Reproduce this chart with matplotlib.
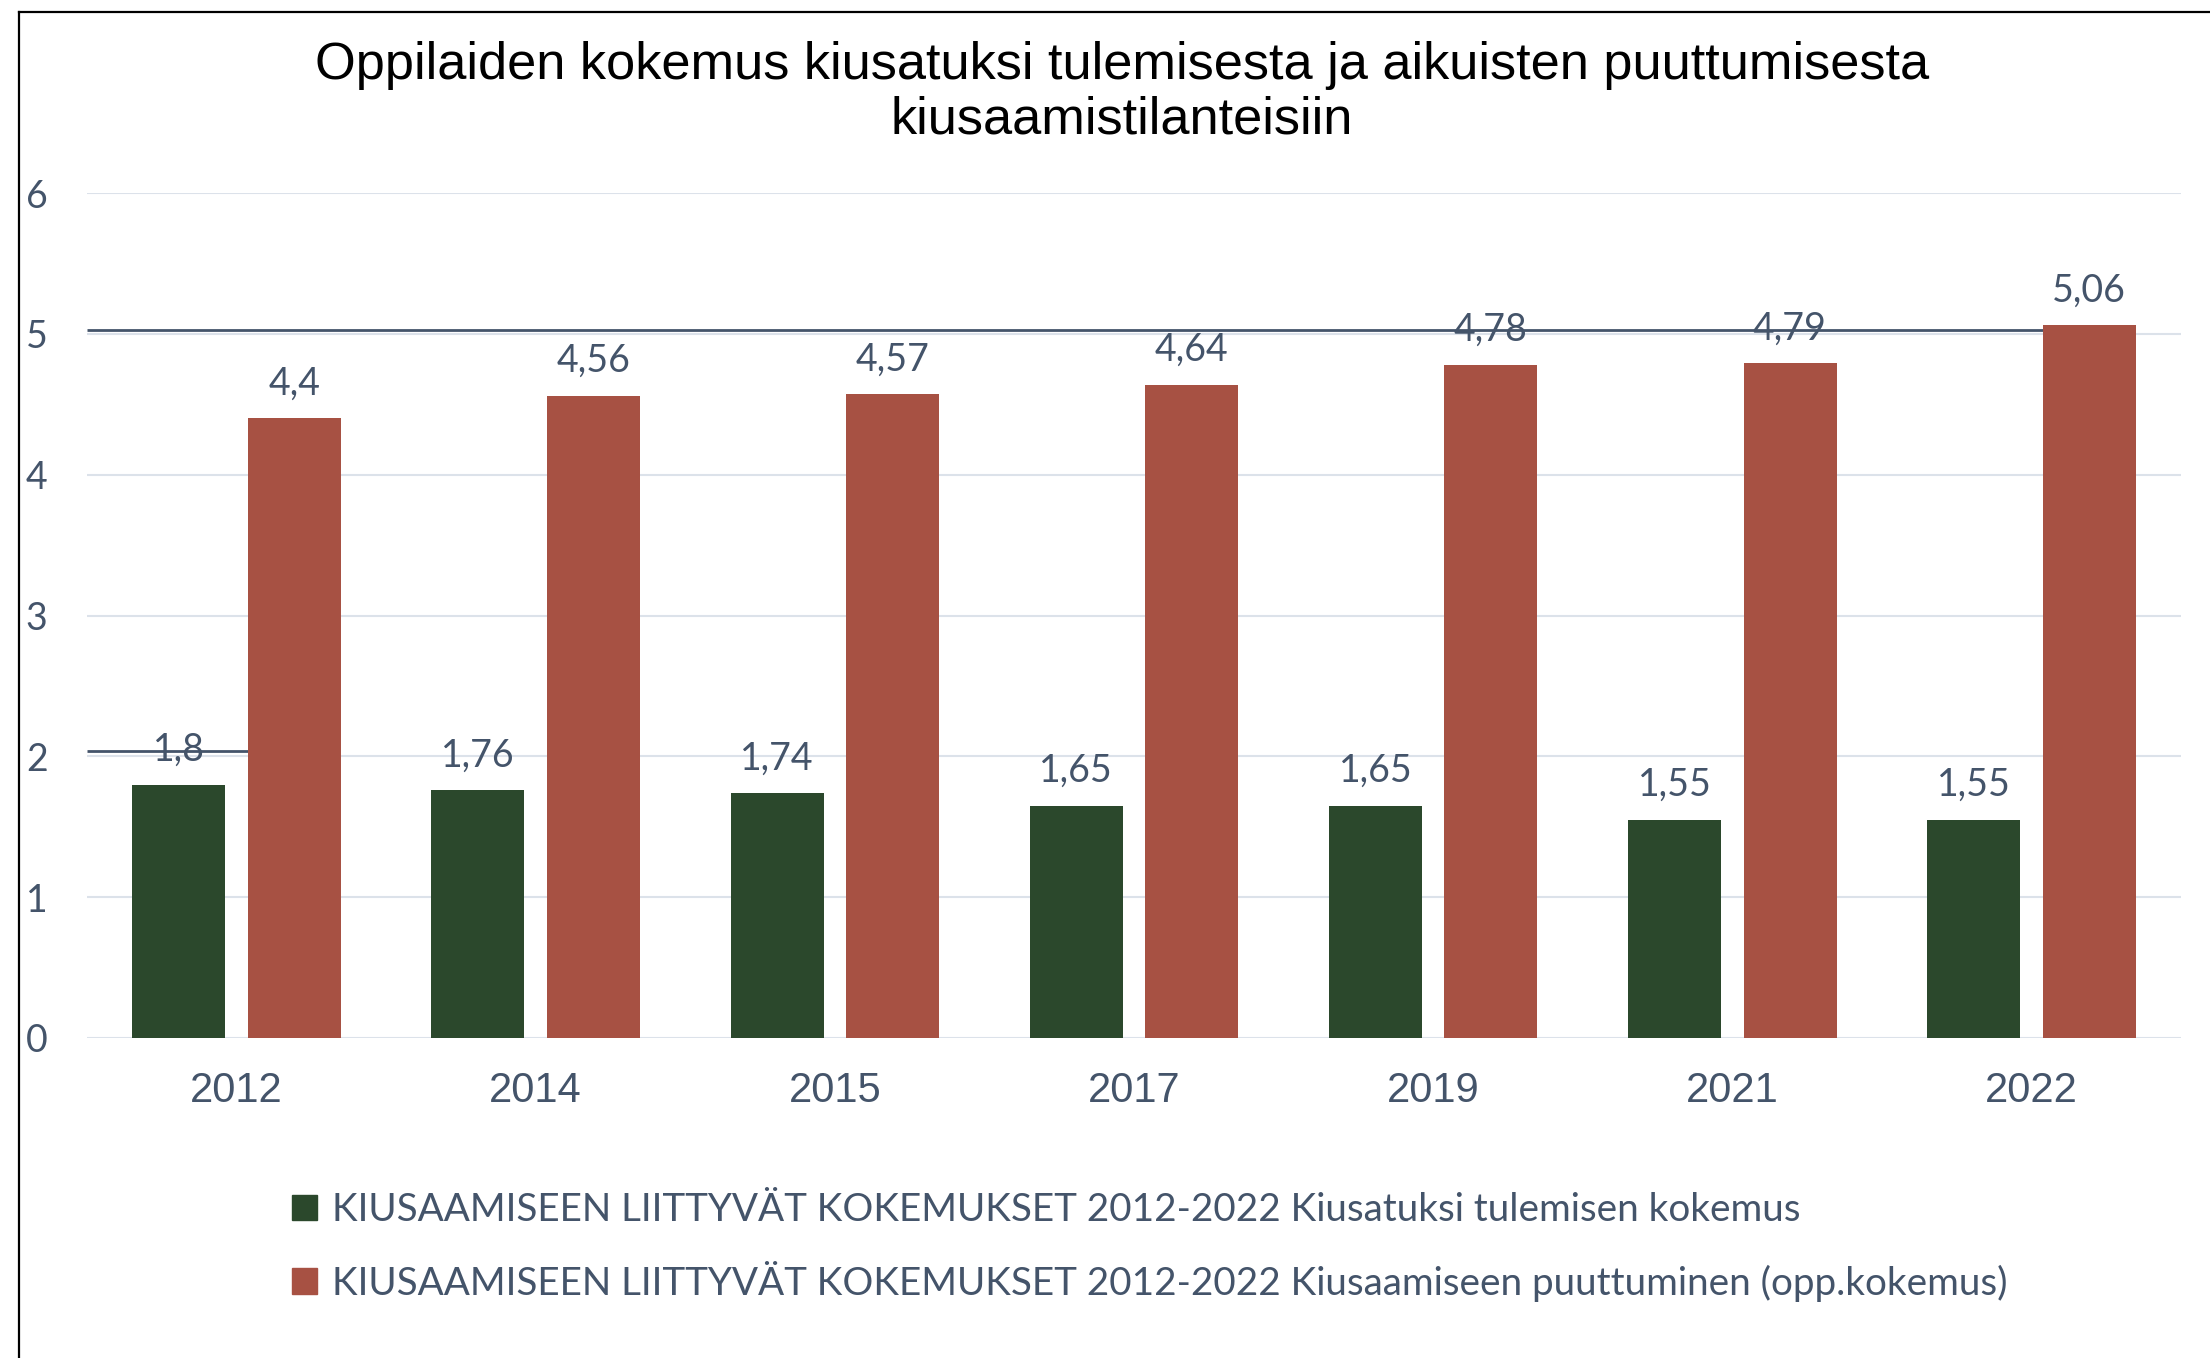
import matplotlib
matplotlib.use("Agg")
import matplotlib.pyplot as plt
import numpy as np
from matplotlib.lines import Line2D
from matplotlib.patches import Patch

# data
years = ["2012", "2014", "2015", "2017", "2019", "2021", "2022"]
kiusatuksi = [1.8, 1.76, 1.74, 1.65, 1.65, 1.55, 1.55]
puuttuminen = [4.4, 4.56, 4.57, 4.64, 4.78, 4.79, 5.06]
series_names = [
    "KIUSAAMISEEN LIITTYVÄT KOKEMUKSET 2012-2022 Kiusatuksi tulemisen kokemus",
    "KIUSAAMISEEN LIITTYVÄT KOKEMUKSET 2012-2022 Kiusaamiseen puuttuminen (opp.kokemus)",
]
title = ("Oppilaiden kokemus kiusatuksi tulemisesta ja aikuisten puuttumisesta\n"
         "kiusaamistilanteisiin")
y_ticks = [0, 1, 2, 3, 4, 5, 6]
# stray dark lines in the original: (level, index of the red bar where it stops)
ref_lines = [(5.03, 6), (2.04, 0)]

GREEN = "#2B482C"
RED = "#A75143"
TEXT = "#44546A"
GRID = "#DCE2EA"
CAL = ["Lato", "DejaVu Sans"]
ARIAL = ["Liberation Sans", "DejaVu Sans"]

W, H = 2210, 1358
fig = plt.figure(figsize=(W / 100, H / 100), dpi=100)
ax = fig.add_axes([87 / W, 1 - 1038 / H, (2181 - 87) / W, (1038 - 193) / H])

x = np.arange(len(years))
bw = 0.311
off = 0.193
b1 = ax.bar(x - off, kiusatuksi, bw, color=GREEN, zorder=3)
b2 = ax.bar(x + off, puuttuminen, bw, color=RED, zorder=3)

for level, idx in ref_lines:
    ax.hlines(level, -0.5, idx + off - bw / 2, color=TEXT, lw=2.0, zorder=2)

for bars, vals in ((b1, kiusatuksi), (b2, puuttuminen)):
    for rect, v in zip(bars, vals):
        ax.annotate(f"{v:g}".replace(".", ","),
                    (rect.get_x() + rect.get_width() / 2, v),
                    xytext=(0, 17), textcoords="offset points",
                    ha="center", va="baseline", fontsize=27,
                    family=CAL, color=TEXT, zorder=4)

ax.set_xlim(-0.5, len(years) - 0.5)
ax.set_ylim(0, 6)
ax.set_xticks(x)
ax.set_xticklabels(years, fontsize=30, color=TEXT)
for lab in ax.get_xticklabels():
    lab.set_family(ARIAL)
ax.set_yticks(y_ticks)
ax.set_yticklabels([str(t) for t in y_ticks], family=CAL, fontsize=27, color=TEXT)
for lab in ax.get_yticklabels():
    lab.set_horizontalalignment("left")
ax.tick_params(axis="x", length=0, pad=24)
ax.tick_params(axis="y", length=0, pad=44)
ax.grid(axis="y", color=GRID, lw=1.5, zorder=0)
ax.set_axisbelow(True)
for s in ax.spines.values():
    s.set_visible(False)

fig.text(1122 / W, 1 - 93 / H, title, ha="center", va="center",
         fontsize=37.7, family=ARIAL, color="black", linespacing=1.15)

handles = [Patch(color=GREEN), Patch(color=RED)]
leg = fig.legend(handles, series_names, loc="center left",
                 bbox_to_anchor=(292 / W, 1 - 1247 / H), frameon=False,
                 prop={"family": "Lato", "size": 27.8},
                 handlelength=0.65, handleheight=0.65, handletextpad=0.38,
                 labelspacing=0.85, borderpad=0, borderaxespad=0)
for t in leg.get_texts():
    t.set_color(TEXT)

# frame edges visible at top and left of the original
fig.add_artist(Line2D([19 / W, 1], [1 - 12 / H, 1 - 12 / H], color="black", lw=1.6))
fig.add_artist(Line2D([19 / W, 19 / W], [0, 1 - 12 / H], color="black", lw=1.6))

fig.savefig("out.png", dpi=100)
